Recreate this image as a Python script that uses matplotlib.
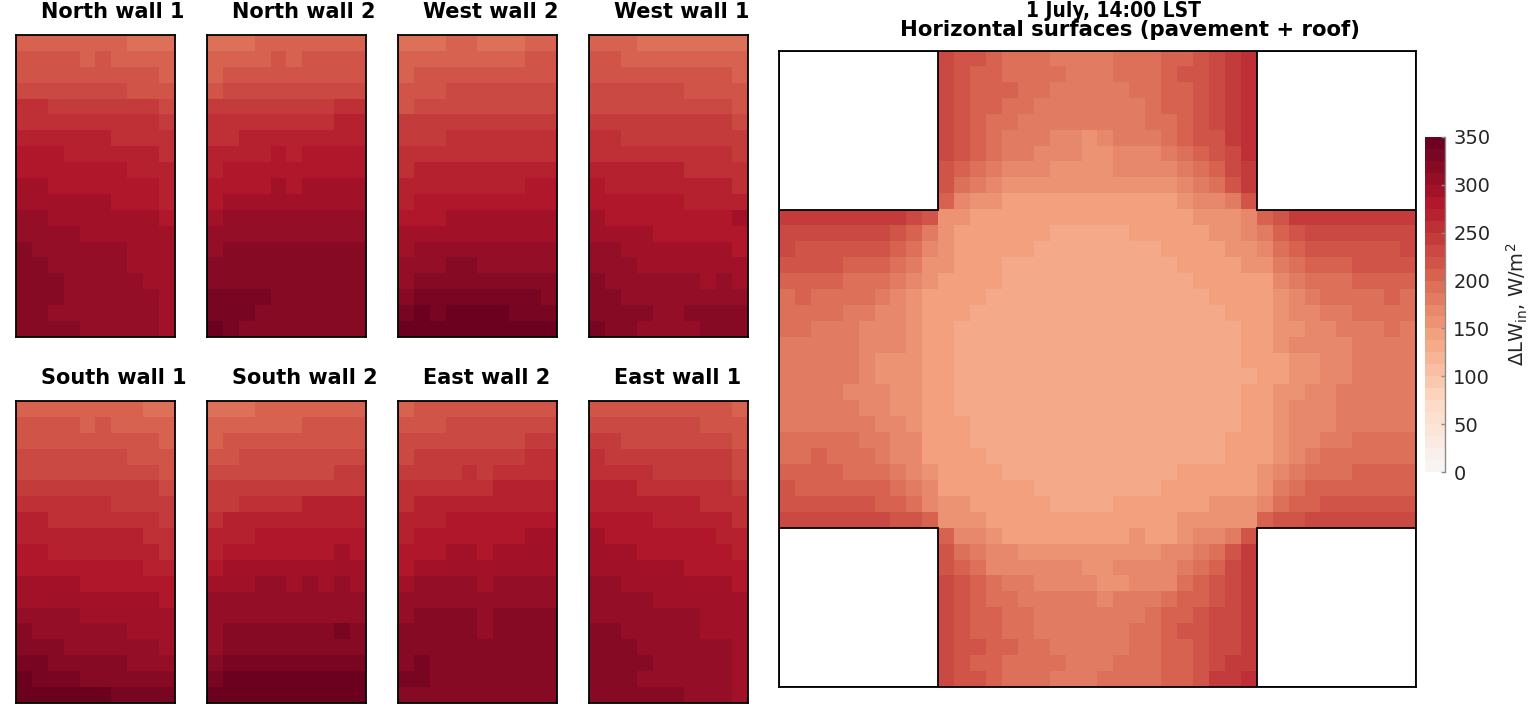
import numpy as np
import matplotlib.pyplot as plt
from matplotlib.colors import ListedColormap, BoundaryNorm
from matplotlib.cm import ScalarMappable
from matplotlib.patches import Rectangle
from matplotlib.ticker import NullLocator

# each character is the colour class of one cell
# class k covers [12.5*k, 12.5*(k+1)) W/m2, written in base 36 ('a'=10 ... 'r'=27)
# '.' = building footprint (no data)
LEVEL_STEP = 12.5
CBAR_TICKS = [0, 50, 100, 150, 200, 250, 300, 350]

north_wall_1 = [
    "gggggggfff", "hhhhghgggg", "hhhhhhhhhg", "iiiiiiihhh", "kkjjjjjjji",
    "kkkkkkkkkj", "llllllkkkk", "mmmllllllk", "mmmmmmmlll", "nnmmmmmmml",
    "nnnnnnmmml", "oonnnnnnnm", "oooonnnnnn", "poooooonnn", "ppooooonnn",
    "pppooooonn", "pppoooooon", "ppooooooon", "ppppooooon",
]
north_wall_2 = [
    "fffggggggg", "gggghghhhh", "ghhhhhhhhh", "hiiiiiiiii", "jjjjjjjjkk",
    "kkkkkkkkll", "kkllllllll", "llllmlmmmm", "lmmmmmmmmm", "mmmmnmnnnn",
    "mnnnnnnnnn", "nooooooooo", "oooooooooo", "oppppppppp", "pppppppppp",
    "pppppppppp", "qqqqpppppp", "qqqppppppp", "rqpppppppp",
]
west_wall_2 = [
    "fffggfffgg", "gggggggghh", "ghhhhhhhhh", "hhhiiiiiii", "hiiiiiiiii",
    "jjjjjjjjjj", "jjjkkkkkkk", "kkkkkkkkkk", "klllllllll", "llllllllmm",
    "lmmmmmmmmm", "mmmnnnnnnn", "nnnnnnnnnn", "nooooooooo", "oooppooooo",
    "oppppppppp", "pqqqqqqqqp", "qrqrrrrqqq", "rrrrrrrrrr",
]
west_wall_1 = [
    "gggfffffff", "hhgggggggg", "hhhhhhhhhg", "iiiiiihhhh", "iiiiiiiiih",
    "jjjjjjjjji", "kkjjjjjjjj", "kkkkkkkkkj", "llllllkkkk", "mllllllllk",
    "mmmmmmllll", "nmmmmmmmmn", "nnnnmmmmmm", "oonnnnnnnm", "ooonnnnnnn",
    "poooooonon", "ppoooooooo", "ppppoopppp", "qppooooppp",
]
south_wall_1 = [
    "ggggggggff", "hhhhghgggg", "hhhhhhhhhg", "iiiiiiihhh", "iiiiiiiiih",
    "jjjjjjjjji", "kkkkkkjjjj", "llkkkkkkkj", "llllllllkk", "mmlllllllk",
    "mmmmmmmmll", "nnnnmmmmmm", "nnnnnnnnnm", "oooonnnnnn", "poooooonnn",
    "pppoooooon", "qqpppppooo", "rqqqpppppp", "rrrrrrqqqq",
]
south_wall_2 = [
    "fffggggggg", "gggggghhhh", "ghhhhhhhhh", "hhiiiiiiii", "iiiiiiiijj",
    "jjjjjjjjjj", "jjkkkkllll", "klllllllll", "lllmmmmmmm", "lmmmmmmmnm",
    "mnnnnnnnnn", "nnnoononon", "oooooooooo", "oooooooooo", "opppppppqp",
    "oppppppppp", "pqqqqqqqqq", "qrrrrrrrrr", "rrrrrrrrrr",
]
east_wall_2 = [
    "ghhhhhhhhh", "hhhiiiiiii", "iiiiiiiijj", "ijjjjjjjkk", "jjjjkjkkkk",
    "kkkkkkllll", "klllllllll", "lllmmmmmmm", "lmmmmmmmnn", "mmmnnmnnnn",
    "mnnnnnnnnn", "noooonoooo", "oooooooooo", "oppppopppp", "pppppopppp",
    "pppppppppp", "pqpppppppp", "qqpppppppp", "pppppppppp",
]
east_wall_1 = [
    "hhhhhhhhhg", "iiiiiiihhh", "jjiiiiiiih", "kjjjjjjjji", "kkkkjjjjji",
    "lllkkkkkkj", "lllllllkkk", "mmmmlllllk", "nmmmmmmmll", "nnnmmmmmml",
    "nnnnnnmmmm", "oonnnnnnnm", "oooonnnnnn", "ooooooonnn", "ppooooonnn",
    "pppoooooon", "ppppooooon", "pppoooooon", "ppppppooon",
]

horizontal = [
    ".........." "ihhgfffeee" "efffgghijk" "..........",
    ".........." "ihggffffee" "efffghhijk" "..........",
    ".........." "ihgggffeee" "eeffgghijk" "..........",
    ".........." "ihggffeeee" "eeefgghijk" "..........",
    ".........." "ihgffeeeee" "eeeffghijk" "..........",
    ".........." "ihgfeeeddc" "deeefghhjk" "..........",
    ".........." "ihgfeedddc" "cdddefghik" "..........",
    ".........." "hgfedddccc" "cddddefgij" "..........",
    ".........." "hfedcccccc" "cccccdefhj" "..........",
    ".........." "gdccbbbbbb" "bbbbbcddeh" "..........",
    "jjjjjjjjih" "ccbbbbbbbb" "bbbbbbcccd" "ghjjjjjjjj",
    "iiiiiiihge" "cbbbbbbaaa" "aabbbbbccd" "eghiiiiiii",
    "ihhhhhhgfd" "cbbbbbaaaa" "aaaabbbbcc" "dfghhhhhhi",
    "hhhhgggfec" "cbbbaaaaaa" "aaaaabbbbc" "cefggghhhh",
    "ggggfffedc" "bbbbaaaaaa" "aaaaaabbbb" "bdefffgggg",
    "fgffffedcb" "bbbaaaaaaa" "aaaaaaabbb" "bcdeffffgf",
    "ffffeeddcb" "bbaaaaaaaa" "aaaaaaaabb" "bcddeeffff",
    "ffeeedddcb" "baaaaaaaaa" "aaaaaaaaab" "bccddeeefe",
    "eeeeedddcb" "baaaaaaaaa" "aaaaaaaaab" "bcddddeeee",
    "eeeeedcccb" "baaaaaaaaa" "aaaaaaaaab" "bbccddeeee",
    "eeeeedcccb" "baaaaaaaaa" "aaaaaaaaaa" "bbccddeeee",
    "eeeedddccb" "baaaaaaaaa" "aaaaaaaaab" "bccddeeeee",
    "eeeeeddccb" "baaaaaaaaa" "aaaaaaaaab" "bcdddeeeee",
    "eeeeeeddcb" "bbaaaaaaaa" "aaaaaaaaab" "bcdddeeeee",
    "fffffeeddb" "bbaaaaaaaa" "aaaaaaaabb" "bcddeeffff",
    "ffgfffeddb" "bbbaaaaaaa" "aaaaaaaabb" "bcdeffffff",
    "ggggfffedc" "bbbbaaaaaa" "aaaaabbbbb" "cdefffgggg",
    "hggggggfed" "bbbbbbaaaa" "aaaabbbbbb" "cefggggggg",
    "hhhhhhggfd" "ccbbbbbaaa" "abbbbbbccc" "dfgghhhhhh",
    "iiiiiiihhg" "cccbbbbbbb" "bbbbbccccc" "ghhiiiiiii",
    ".........." "gddcbbbbbb" "bbcbbcddeh" "..........",
    ".........." "hfeddccccc" "ccccddefhj" "..........",
    ".........." "hgfddddddc" "cddddefgij" "..........",
    ".........." "ihgfeedddd" "ccdddfghij" "..........",
    ".........." "ihgffeeeee" "deeefgghij" "..........",
    ".........." "ihggffeeee" "eeefgghiij" "..........",
    ".........." "ihggffeeee" "eeffghhiij" "..........",
    ".........." "ihhggffeee" "eeffgghiij" "..........",
    ".........." "ihggffffee" "efffgghijj" "..........",
    ".........." "ihhgfffeee" "ffffgghjjk" "..........",
]


def to_values(rows):
    out = []
    for row in rows:
        out.append([np.nan if ch == '.' else (int(ch, 36) + 0.5) * LEVEL_STEP for ch in row])
    return np.array(out)


W, H = 1533, 708
fig = plt.figure(figsize=(W / 100, H / 100), dpi=100)


def px_axes(x0, y0, x1, y1):
    return fig.add_axes([x0 / W, 1 - y1 / H, (x1 - x0) / W, (y1 - y0) / H])


base = plt.get_cmap('RdBu_r')
cmap = ListedColormap(base(0.5 + (np.arange(28) + 0.5) / 56))
cmap.set_bad('white')
norm = BoundaryNorm(np.linspace(0, 350, 29), cmap.N)

walls = [
    ("North wall 1", north_wall_1, 16, 35),
    ("North wall 2", north_wall_2, 207, 35),
    ("West wall 2", west_wall_2, 398, 35),
    ("West wall 1", west_wall_1, 589, 35),
    ("South wall 1", south_wall_1, 16, 401),
    ("South wall 2", south_wall_2, 207, 401),
    ("East wall 2", east_wall_2, 398, 401),
    ("East wall 1", east_wall_1, 589, 401),
]

for title, rows, x0, y0 in walls:
    ax = px_axes(x0, y0, x0 + 159, y0 + 302)
    ax.imshow(to_values(rows), cmap=cmap, norm=norm, aspect='auto',
              interpolation='nearest')
    ax.set_xticks([])
    ax.set_yticks([])
    for s in ax.spines.values():
        s.set_linewidth(1.3)
    fig.text((x0 + 25) / W, 1 - (y0 - 17) / H, title, fontsize=15,
             fontweight='bold', ha='left', va='baseline')

# horizontal surfaces
ax = px_axes(779, 51, 1416, 687)
ax.imshow(to_values(horizontal), cmap=cmap, norm=norm, aspect='auto',
          interpolation='nearest', extent=(0, 40, 40, 0))
for bx, by in [(0, 0), (30, 0), (0, 30), (30, 30)]:
    ax.add_patch(Rectangle((bx, by), 10, 10, facecolor='white',
                           edgecolor='black', lw=1.3))
ax.set_xlim(0, 40)
ax.set_ylim(40, 0)
ax.set_xticks([])
ax.set_yticks([])
for s in ax.spines.values():
    s.set_linewidth(1.3)

fig.text(1114 / W, 1 - 17 / H, "1 July, 14:00 LST", fontsize=15,
         fontweight='bold', fontstretch='condensed', ha='center', va='baseline')
fig.text(1130 / W, 1 - 36 / H, "Horizontal surfaces (pavement + roof)",
         fontsize=15.3, fontweight='bold', ha='center', va='baseline')

# colorbar
cax = px_axes(1425, 137, 1445, 472)
cb = fig.colorbar(ScalarMappable(norm=norm, cmap=cmap), cax=cax, ticks=CBAR_TICKS)
cb.outline.set_visible(False)
cax.yaxis.set_minor_locator(NullLocator())
cax.plot([1, 1], [0, 1], transform=cax.transAxes, color='#8c8c8c', lw=1,
         clip_on=False)
cax.tick_params(direction='in', length=3, width=1, color='#8c8c8c',
                labelsize=14, labelcolor='#262626', pad=6)
cb.set_label(r'$\Delta$LW$_{\mathrm{in}}$, W/m$^2$', fontsize=14,
             color='#262626', labelpad=10)

fig.savefig("out.png", dpi=100)
